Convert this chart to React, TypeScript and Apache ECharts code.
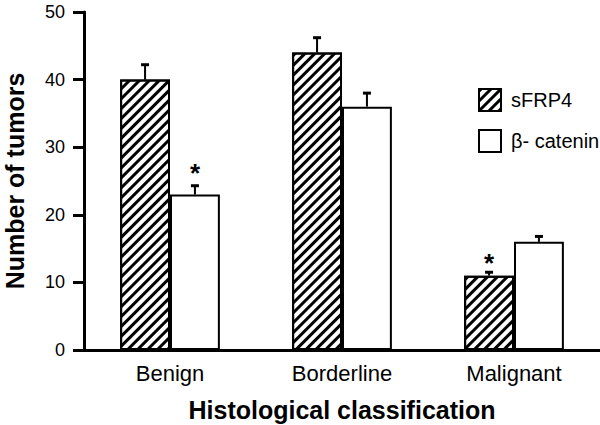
import React, { useEffect, useRef } from "react";
import * as echarts from "echarts";

const categories = ["Benign", "Borderline", "Malignant"];
const sfrp4Values = [40, 44, 11];
const sfrp4ErrTop = [42.2, 46.2, 11.5];
const cateninValues = [23, 36, 16];
const cateninErrTop = [24.3, 38, 16.8];
// asterisks: [categoryIndex, seriesSide(-1 sFRP4, +1 β-catenin), y value]
const asterisks = [
  [0, 1, 26.2],
  [2, -1, 12.9],
];
const yTicks = [0, 10, 20, 30, 40, 50];

const FONT = "'Liberation Sans', Arial, Helvetica, sans-serif";
const GAP = 0.42;

export default function App() {
  const ref = useRef<HTMLDivElement>(null);
  useEffect(() => {
    if (!ref.current) return;
    const chart = echarts.init(ref.current, undefined, { renderer: "svg" });
    const errData: number[][] = [];
    categories.forEach((_, i) => {
      errData.push([i, sfrp4Values[i], sfrp4ErrTop[i], -1]);
      errData.push([i, cateninValues[i], cateninErrTop[i], 1]);
    });
    const barStyleBase = { borderColor: "#000", borderWidth: 2 };
    chart.setOption({
      animation: false,
      textStyle: { fontFamily: FONT },
      grid: { left: 84, right: 0, top: 12, bottom: 75, containLabel: false, outerBoundsMode: "none" },
      legend: {
        orient: "vertical",
        left: 478,
        top: 88,
        padding: 0,
        itemWidth: 22,
        itemHeight: 22,
        itemGap: 17,
        icon: "rect",
        textStyle: { fontSize: 20, color: "#000", fontFamily: FONT, padding: [0, 0, 0, 5] },
        data: ["sFRP4", "β- catenin"],
      },
      xAxis: {
        type: "category",
        data: categories,
        axisLine: { lineStyle: { color: "#000", width: 3 } },
        axisTick: { show: false },
        axisLabel: { color: "#000", fontSize: 22, margin: 12, fontFamily: FONT },
        name: "Histological classification",
        nameLocation: "middle",
        nameGap: 47,
        nameTextStyle: { color: "#000", fontSize: 25, fontWeight: "bold", fontFamily: FONT, verticalAlign: "top" },
      },
      yAxis: {
        type: "value",
        min: 0,
        max: 50,
        interval: 10,
        splitLine: { show: false },
        axisLine: { show: true, lineStyle: { color: "#000", width: 3 } },
        axisTick: { show: true, length: 11, lineStyle: { color: "#000", width: 3 } },
        axisLabel: {
          color: "#000",
          fontSize: 18,
          margin: 19,
          fontFamily: FONT,
          formatter: (v: number) => (yTicks.includes(v) ? String(v) : ""),
        },
        name: "Number of tumors",
        nameLocation: "middle",
        nameGap: 57,
        nameTextStyle: { color: "#000", fontSize: 25, fontWeight: "bold", fontFamily: FONT },
      },
      series: [
        {
          name: "sFRP4",
          type: "bar",
          data: sfrp4Values,
          barGap: "0%",
          barCategoryGap: GAP * 100 + "%",
          itemStyle: {
            ...barStyleBase,
            color: "#fff",
            decal: {
              symbol: "rect",
              symbolSize: 1,
              dashArrayX: [1, 0],
              dashArrayY: [3, 4],
              rotation: -Math.PI / 4,
              color: "#000",
            },
          },
        },
        {
          name: "β- catenin",
          type: "bar",
          data: cateninValues,
          itemStyle: { ...barStyleBase, color: "#fff" },
        },
        {
          type: "custom",
          z: 5,
          data: errData,
          encode: { x: 0, y: [1, 2] },
          renderItem: (params: any, api: any) => {
            const cat = api.value(0);
            const side = api.value(3);
            const c = api.coord([cat, api.value(1)]);
            const t = api.coord([cat, api.value(2)]);
            const bw = (api.size([1, 0])[0] * (1 - GAP)) / 2;
            const x = c[0] + (side * bw) / 2;
            return {
              type: "group",
              children: [
                { type: "line", shape: { x1: x, y1: c[1], x2: x, y2: t[1] }, style: { stroke: "#000", lineWidth: 2 } },
                { type: "line", shape: { x1: x - 4, y1: t[1], x2: x + 4, y2: t[1] }, style: { stroke: "#000", lineWidth: 3 } },
              ],
            };
          },
        },
        {
          type: "custom",
          z: 6,
          data: asterisks,
          encode: { x: 0, y: 2 },
          renderItem: (params: any, api: any) => {
            const cat = api.value(0);
            const side = api.value(1);
            const p = api.coord([cat, api.value(2)]);
            const bw = (api.size([1, 0])[0] * (1 - GAP)) / 2;
            const x = p[0] + (side * bw) / 2;
            return {
              type: "text",
              style: {
                x,
                y: p[1],
                text: "*",
                fill: "#000",
                fontSize: 26,
                fontWeight: "bold",
                fontFamily: FONT,
                align: "center",
                verticalAlign: "middle",
              },
            };
          },
        },
      ],
    });
    return () => chart.dispose();
  }, []);
  return (
    <div
      ref={ref}
      style={{ position: "fixed", left: 0, top: 0, width: 600, height: 425, background: "#fff" }}
    />
  );
}
